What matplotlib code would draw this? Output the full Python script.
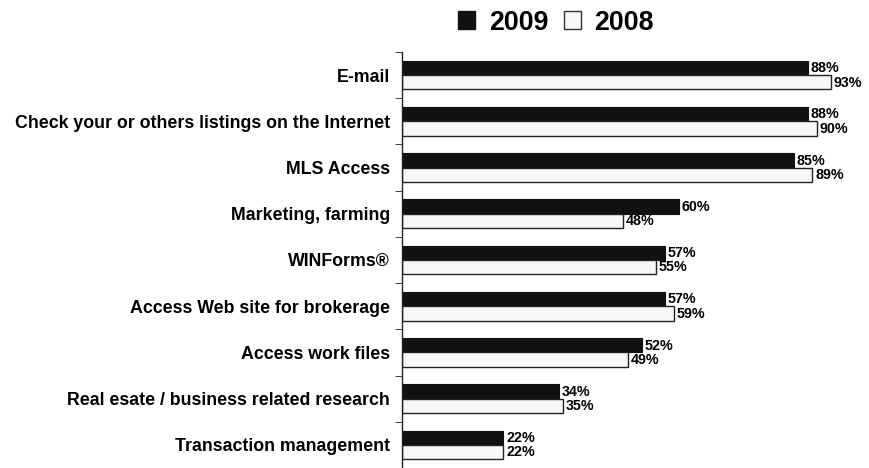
import numpy as np
import matplotlib.pyplot as plt
from matplotlib.patches import Patch

plt.rcParams['font.family'] = ['Liberation Sans', 'DejaVu Sans']
plt.rcParams['font.weight'] = 'bold'

# survey categories, top to bottom
categories = ['E-mail',
              'Check your or others listings on the Internet',
              'MLS Access',
              'Marketing, farming',
              'WINForms®',
              'Access Web site for brokerage',
              'Access work files',
              'Real esate / business related research',
              'Transaction management']
pct_2009 = [88, 88, 85, 60, 57, 57, 52, 34, 22]
pct_2008 = [93, 90, 89, 48, 55, 59, 49, 35, 22]

fig = plt.figure(figsize=(8.7, 4.68), dpi=100)
ax = fig.add_axes([402 / 870, 0, 1 - 402 / 870, 1 - 52 / 468])

y = np.arange(len(categories))
h = 0.31
ax.barh(y - h / 2, pct_2009, height=h, color='#111111', edgecolor='#111111', linewidth=0.8)
ax.barh(y + h / 2, pct_2008, height=h, color='#f7f7f7', edgecolor='#222222', linewidth=1.0)

for i in range(len(categories)):
    ax.text(pct_2009[i] + 0.6, y[i] - 0.15, f'{pct_2009[i]}%', va='center', ha='left',
            fontsize=10.3, fontweight='bold')
    ax.text(pct_2008[i] + 0.6, y[i] + 0.16, f'{pct_2008[i]}%', va='center', ha='left',
            fontsize=10.3, fontweight='bold')

ax.set_ylim(len(categories) - 0.5, -0.5)
ax.set_xlim(0, (870 - 402) / 4.61)

ax.set_yticks(y)
ax.set_yticklabels(categories, fontsize=12.8, fontweight='bold')
ax.tick_params(axis='y', which='major', length=0, pad=8.5)
ax.set_yticks(np.arange(len(categories) + 1) - 0.5, minor=True)
ax.tick_params(axis='y', which='minor', length=5, direction='out', color='#222222')
ax.set_xticks([])

for side in ['top', 'right', 'bottom']:
    ax.spines[side].set_visible(False)
ax.spines['left'].set_color('#222222')
ax.spines['left'].set_linewidth(1.0)

handles = [Patch(facecolor='#111111', edgecolor='#111111', label='2009'),
           Patch(facecolor='#f7f7f7', edgecolor='#333333', label='2008')]
fig.legend(handles=handles, loc='center', bbox_to_anchor=(556 / 870, 1 - 22.5 / 468),
           ncol=2, frameon=False, prop={'weight': 'bold', 'size': 19.3},
           handlelength=0.65, handleheight=0.65, handletextpad=0.5, columnspacing=0.58)

fig.savefig('out.png', dpi=100)
